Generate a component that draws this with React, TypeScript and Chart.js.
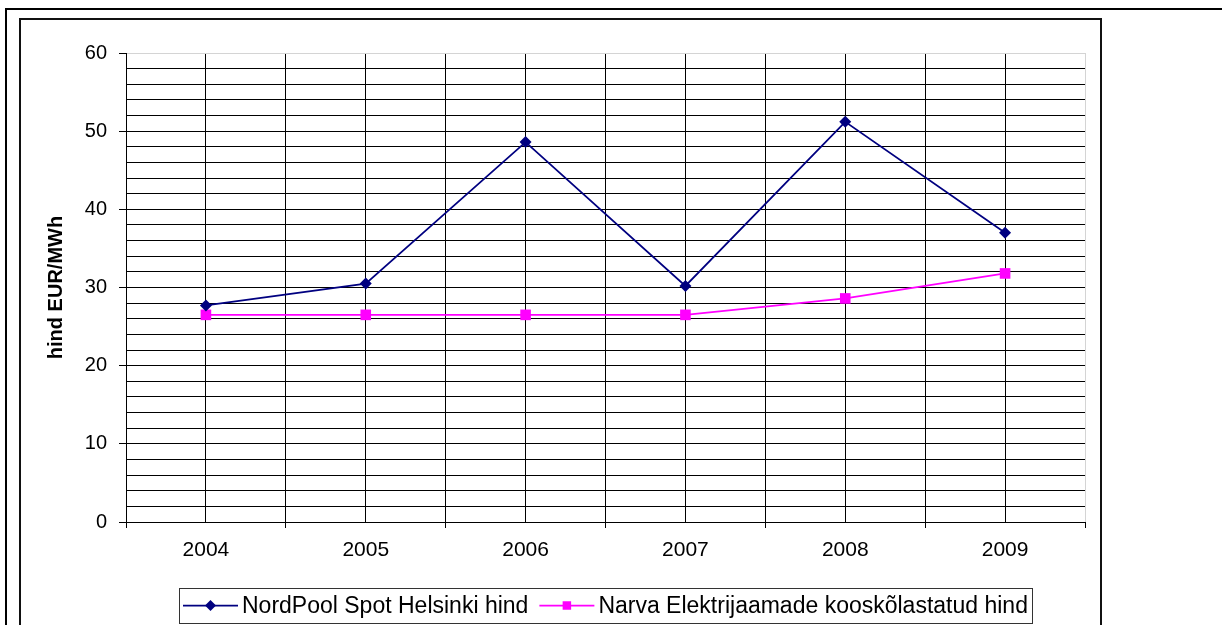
import { useEffect, useRef } from 'react';
import { Chart, registerables } from 'chart.js';

Chart.register(...registerables);

// Annual electricity prices, EUR/MWh
const years = ['2004', '2005', '2006', '2007', '2008', '2009'];
const nordPoolHelsinki = [27.7, 30.5, 48.6, 30.2, 51.2, 37.0];
const narvaPrice = [26.5, 26.5, 26.5, 26.5, 28.6, 31.8];
const seriesNames = ['NordPool Spot Helsinki hind', 'Narva Elektrijaamade kooskõlastatud hind'];
const seriesColors = ['#000080', '#FF00FF'];
const yAxisTitle = 'hind EUR/MWh';
const yMin = 0;
const yMax = 60;
const yMinorStep = 2;
const yMajorStep = 10;

const FONT = '"Liberation Sans", Arial, sans-serif';
const W = 1222;
const H = 625;

// White page with the two framing borders
const framePlugin = {
  id: 'frame',
  beforeDraw(chart: any) {
    const ctx = chart.ctx as CanvasRenderingContext2D;
    ctx.save();
    ctx.fillStyle = '#fff';
    ctx.fillRect(0, 0, W, H);
    ctx.fillStyle = '#000';
    // outer frame: top and left edges
    ctx.fillRect(5, 8, W - 5, 2);
    ctx.fillRect(5, 8, 2, H - 8);
    // inner chart frame
    ctx.fillStyle = '#111';
    ctx.fillRect(19, 18, 1083, 2);
    ctx.fillRect(19, 18, 2, H - 18);
    ctx.fillRect(1100, 18, 2, H - 18);
    ctx.restore();
  },
};

function drawMarker(ctx: CanvasRenderingContext2D, kind: number, x: number, y: number, r: number, color: string) {
  ctx.fillStyle = color;
  ctx.beginPath();
  if (kind === 0) {
    ctx.moveTo(x, y - r);
    ctx.lineTo(x + r, y);
    ctx.lineTo(x, y + r);
    ctx.lineTo(x - r, y);
    ctx.closePath();
  } else {
    const s = r * Math.SQRT1_2;
    ctx.rect(x - s, y - s, 2 * s, 2 * s);
  }
  ctx.fill();
}

// Boxed legend below the x axis: line + marker + label for each series
const legendPlugin = {
  id: 'boxLegend',
  afterDraw(chart: any) {
    const ctx = chart.ctx as CanvasRenderingContext2D;
    const area = chart.chartArea;
    ctx.save();
    ctx.font = `23px ${FONT}`;
    const lineLen = 55;
    const gapIn = 4;
    const gapBetween = 11;
    const padX = 4;
    const widths = seriesNames.map((n) => ctx.measureText(n).width);
    const total = padX * 2 + widths.reduce((a, w) => a + lineLen + gapIn + w, 0) + gapBetween;
    const left = Math.round((area.left + area.right) / 2 - total / 2);
    const top = 588;
    const h = 35;
    const cy = top + h / 2;
    ctx.strokeStyle = '#333';
    ctx.lineWidth = 1;
    ctx.strokeRect(left + 0.5, top + 0.5, Math.round(total), h);
    let x = left + padX;
    seriesNames.forEach((name, i) => {
      ctx.strokeStyle = seriesColors[i];
      ctx.lineWidth = 1.75;
      ctx.beginPath();
      ctx.moveTo(x, cy);
      ctx.lineTo(x + lineLen, cy);
      ctx.stroke();
      drawMarker(ctx, i, x + lineLen / 2, cy, i === 0 ? 5.5 : 6, seriesColors[i]);
      x += lineLen + gapIn;
      ctx.fillStyle = '#000';
      ctx.textBaseline = 'middle';
      ctx.textAlign = 'left';
      ctx.fillText(name, x, cy + 1);
      x += widths[i] + gapBetween;
    });
    ctx.restore();
  },
};

export default function App() {
  const canvasRef = useRef<HTMLCanvasElement | null>(null);

  useEffect(() => {
    const canvas = canvasRef.current;
    if (!canvas) return;
    const toPoints = (vals: number[]) => vals.map((v, i) => ({ x: i, y: v }));
    const chart = new Chart(canvas, {
      type: 'line',
      data: {
        datasets: [
          {
            label: seriesNames[0],
            data: toPoints(nordPoolHelsinki),
            borderColor: seriesColors[0],
            backgroundColor: seriesColors[0],
            borderWidth: 1.75,
            pointStyle: 'rectRot',
            pointRadius: 6,
            pointBorderWidth: 0,
            tension: 0,
          },
          {
            label: seriesNames[1],
            data: toPoints(narvaPrice),
            borderColor: seriesColors[1],
            backgroundColor: seriesColors[1],
            borderWidth: 1.75,
            pointStyle: 'rect',
            pointRadius: 7.5,
            pointBorderWidth: 0,
            tension: 0,
          },
        ],
      },
      options: {
        responsive: false,
        animation: false,
        devicePixelRatio: 1,
        layout: { padding: { left: 20, right: 137, top: 53, bottom: 0 } },
        plugins: {
          legend: { display: false },
          tooltip: { enabled: false },
        },
        scales: {
          x: {
            type: 'linear',
            min: -0.5,
            max: years.length - 0.5,
            afterBuildTicks: (scale: any) => {
              const t = [];
              for (let i = 0; i <= years.length * 2; i++) t.push({ value: -0.5 + i * 0.5 });
              scale.ticks = t;
            },
            afterFit: (scale: any) => {
              scale.height = 103;
            },
            ticks: {
              autoSkip: false,
              maxRotation: 0,
              minRotation: 0,
              padding: 10,
              color: '#000',
              font: { family: FONT, size: 21 },
              callback: (v: any) => (Number.isInteger(v) ? years[v] : ''),
            },
            grid: {
              color: (c: any) => (c.tick && c.tick.value === years.length - 0.5 ? '#d4d4d4' : '#000'),
              tickColor: (c: any) => (c.tick && Number.isInteger(c.tick.value) ? 'rgba(0,0,0,0)' : '#000'),
              tickLength: 6,
              lineWidth: 1,
            },
            border: { display: true, color: '#000', width: 1 },
          },
          y: {
            type: 'linear',
            min: yMin,
            max: yMax,
            afterBuildTicks: (scale: any) => {
              const t = [];
              for (let v = yMin; v <= yMax; v += yMinorStep) t.push({ value: v });
              scale.ticks = t;
            },
            afterFit: (scale: any) => {
              scale.width = 106;
            },
            ticks: {
              autoSkip: false,
              padding: 12,
              color: '#000',
              font: { family: FONT, size: 20 },
              callback: (v: any) => (v % yMajorStep === 0 ? String(v) : ''),
            },
            grid: {
              color: (c: any) => (c.tick && c.tick.value === yMax ? '#d4d4d4' : '#000'),
              tickColor: (c: any) => (c.tick && c.tick.value % yMajorStep === 0 ? '#000' : 'rgba(0,0,0,0)'),
              tickLength: 7,
              lineWidth: 1,
            },
            border: { display: true, color: '#000', width: 1 },
            title: {
              display: true,
              text: yAxisTitle,
              color: '#000',
              font: { family: FONT, size: 20, weight: 'bold' },
              padding: { top: 24, bottom: 0 },
            },
          },
        },
      },
      plugins: [framePlugin, legendPlugin],
    } as any);
    return () => chart.destroy();
  }, []);

  return (
    <div style={{ position: 'fixed', left: 0, top: 0, width: W, height: H, background: '#fff' }}>
      <canvas ref={canvasRef} width={W} height={H} style={{ display: 'block', width: W, height: H }} />
    </div>
  );
}
